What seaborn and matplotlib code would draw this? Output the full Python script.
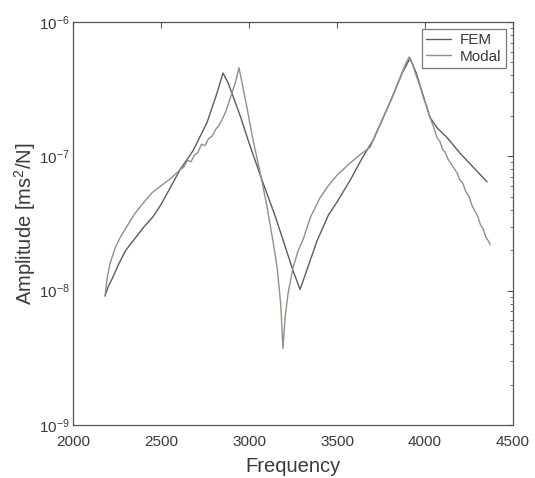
import matplotlib
matplotlib.use("Agg")
import matplotlib.pyplot as plt
import seaborn as sns
import pandas as pd
from matplotlib.ticker import LogLocator, LogFormatterSciNotation, FixedLocator, NullFormatter

# ---- data ----
fem_freq = [2182, 2200, 2227, 2260, 2300, 2341, 2400, 2455, 2500, 2550, 2608, 2682,
            2761, 2818, 2852, 2880, 2903, 2950, 3000, 3080, 3150, 3200, 3250, 3290,
            3320, 3386, 3450, 3500, 3574, 3640, 3705, 3760, 3820, 3870, 3915, 3950,
            3990, 4028, 4070, 4125, 4200, 4280, 4352]
fem_amp = [9.12e-9, 1.07e-8, 1.26e-8, 1.58e-8, 2.00e-8, 2.34e-8, 2.95e-8, 3.55e-8,
           4.37e-8, 5.75e-8, 7.94e-8, 1.10e-7, 1.78e-7, 2.95e-7, 4.17e-7, 3.55e-7,
           2.95e-7, 2.00e-7, 1.26e-7, 6.31e-8, 3.55e-8, 2.24e-8, 1.41e-8, 1.02e-8,
           1.32e-8, 2.34e-8, 3.63e-8, 4.57e-8, 6.61e-8, 9.55e-8, 1.32e-7, 1.91e-7,
           2.88e-7, 4.17e-7, 5.37e-7, 4.17e-7, 2.82e-7, 1.95e-7, 1.62e-7, 1.38e-7,
           1.05e-7, 8.13e-8, 6.46e-8]

modal_freq = [2182, 2195, 2210, 2240, 2270, 2307, 2350, 2398, 2450, 2500, 2551, 2608,
              2630, 2650, 2670, 2690, 2710, 2730, 2750, 2770, 2790, 2810, 2830, 2850,
              2870, 2890, 2910, 2925, 2943, 2960, 2990, 3023, 3060, 3100, 3136, 3160,
              3180, 3193, 3205, 3222, 3250, 3280, 3307, 3350, 3403, 3450, 3500, 3574,
              3640, 3688, 3740, 3800, 3850, 3890, 3910, 3930, 3950, 3970, 3990, 4010,
              4028, 4045, 4068, 4085, 4100, 4115, 4130, 4150, 4170, 4185, 4199, 4215,
              4230, 4250, 4265, 4280, 4300, 4315, 4330, 4345, 4360, 4370]
modal_amp = [9.12e-9, 1.26e-8, 1.58e-8, 2.09e-8, 2.51e-8, 3.02e-8, 3.72e-8, 4.47e-8,
             5.37e-8, 6.03e-8, 6.76e-8, 7.94e-8, 8.32e-8, 9.33e-8, 9.12e-8, 1.02e-7,
             1.07e-7, 1.23e-7, 1.20e-7, 1.35e-7, 1.41e-7, 1.58e-7, 1.70e-7, 1.91e-7,
             2.19e-7, 2.63e-7, 3.16e-7, 3.63e-7, 4.57e-7, 3.55e-7, 2.24e-7, 1.32e-7,
             7.94e-8, 4.37e-8, 2.34e-8, 1.48e-8, 7.94e-9, 3.72e-9, 6.31e-9, 9.55e-9,
             1.48e-8, 2.00e-8, 2.40e-8, 3.55e-8, 4.90e-8, 6.03e-8, 7.24e-8, 8.91e-8,
             1.05e-7, 1.17e-7, 1.66e-7, 2.51e-7, 3.63e-7, 4.90e-7, 5.50e-7, 4.79e-7,
             3.98e-7, 3.39e-7, 2.75e-7, 2.34e-7, 1.95e-7, 1.70e-7, 1.38e-7, 1.29e-7,
             1.12e-7, 1.07e-7, 9.55e-8, 8.71e-8, 7.94e-8, 7.41e-8, 6.61e-8, 6.31e-8,
             5.50e-8, 5.01e-8, 4.37e-8, 3.98e-8, 3.55e-8, 3.09e-8, 2.88e-8, 2.51e-8,
             2.34e-8, 2.19e-8]

series_names = ["FEM", "Modal"]
x_ticks = [2000, 2500, 3000, 3500, 4000, 4500]
y_ticks = [1e-9, 1e-8, 1e-7, 1e-6]

df = pd.concat([
    pd.DataFrame({"Frequency": fem_freq, "Amplitude": fem_amp, "Series": series_names[0]}),
    pd.DataFrame({"Frequency": modal_freq, "Amplitude": modal_amp, "Series": series_names[1]}),
], ignore_index=True)

sns.set_style("white")
plt.rcParams["font.family"] = ["Liberation Sans", "DejaVu Sans"]
plt.rcParams["mathtext.default"] = "regular"

fig = plt.figure(figsize=(5.35, 4.78), dpi=100)
ax = fig.add_axes([0.1364, 0.111, 0.8226, 0.843])

palette = {"FEM": "#5c5c5c", "Modal": "#8e9184"}
sns.lineplot(data=df, x="Frequency", y="Amplitude", hue="Series", palette=palette,
             estimator=None, sort=True, linewidth=1.0, ax=ax, legend=True)

ax.set_yscale("log")
ax.set_xlim(2000, 4500)
ax.set_ylim(1e-9, 1e-6)
ax.xaxis.set_major_locator(FixedLocator(x_ticks))
ax.yaxis.set_major_locator(FixedLocator(y_ticks))
ax.yaxis.set_minor_locator(LogLocator(base=10, subs=range(2, 10), numticks=20))
ax.yaxis.set_major_formatter(LogFormatterSciNotation())
ax.yaxis.set_minor_formatter(NullFormatter())

text_color = "#3a3a3a"
ax.set_xlabel("Frequency", fontsize=14.5, color=text_color, labelpad=6)
ax.set_ylabel("Amplitude [ms$^2$/N]", fontsize=14.5, color=text_color, labelpad=1)
ax.tick_params(axis="both", which="both", direction="in", top=True, right=True,
               colors="#555555", labelcolor=text_color, labelsize=11)
ax.tick_params(axis="x", which="major", pad=7)
ax.tick_params(axis="y", which="major", pad=2)
ax.tick_params(axis="both", which="major", length=4)
ax.tick_params(axis="both", which="minor", length=2)
for s in ax.spines.values():
    s.set_visible(True)
    s.set_color("#555555")
    s.set_linewidth(0.9)

leg = ax.legend(loc="upper right", fontsize=11, frameon=True, fancybox=False,
                edgecolor="#555555", handlelength=1.6, handletextpad=0.6,
                borderpad=0.3, labelspacing=0.15, borderaxespad=0.45)
leg.get_frame().set_linewidth(0.9)
for t in leg.get_texts():
    t.set_color(text_color)

fig.savefig("out.png", dpi=100, facecolor="white")
